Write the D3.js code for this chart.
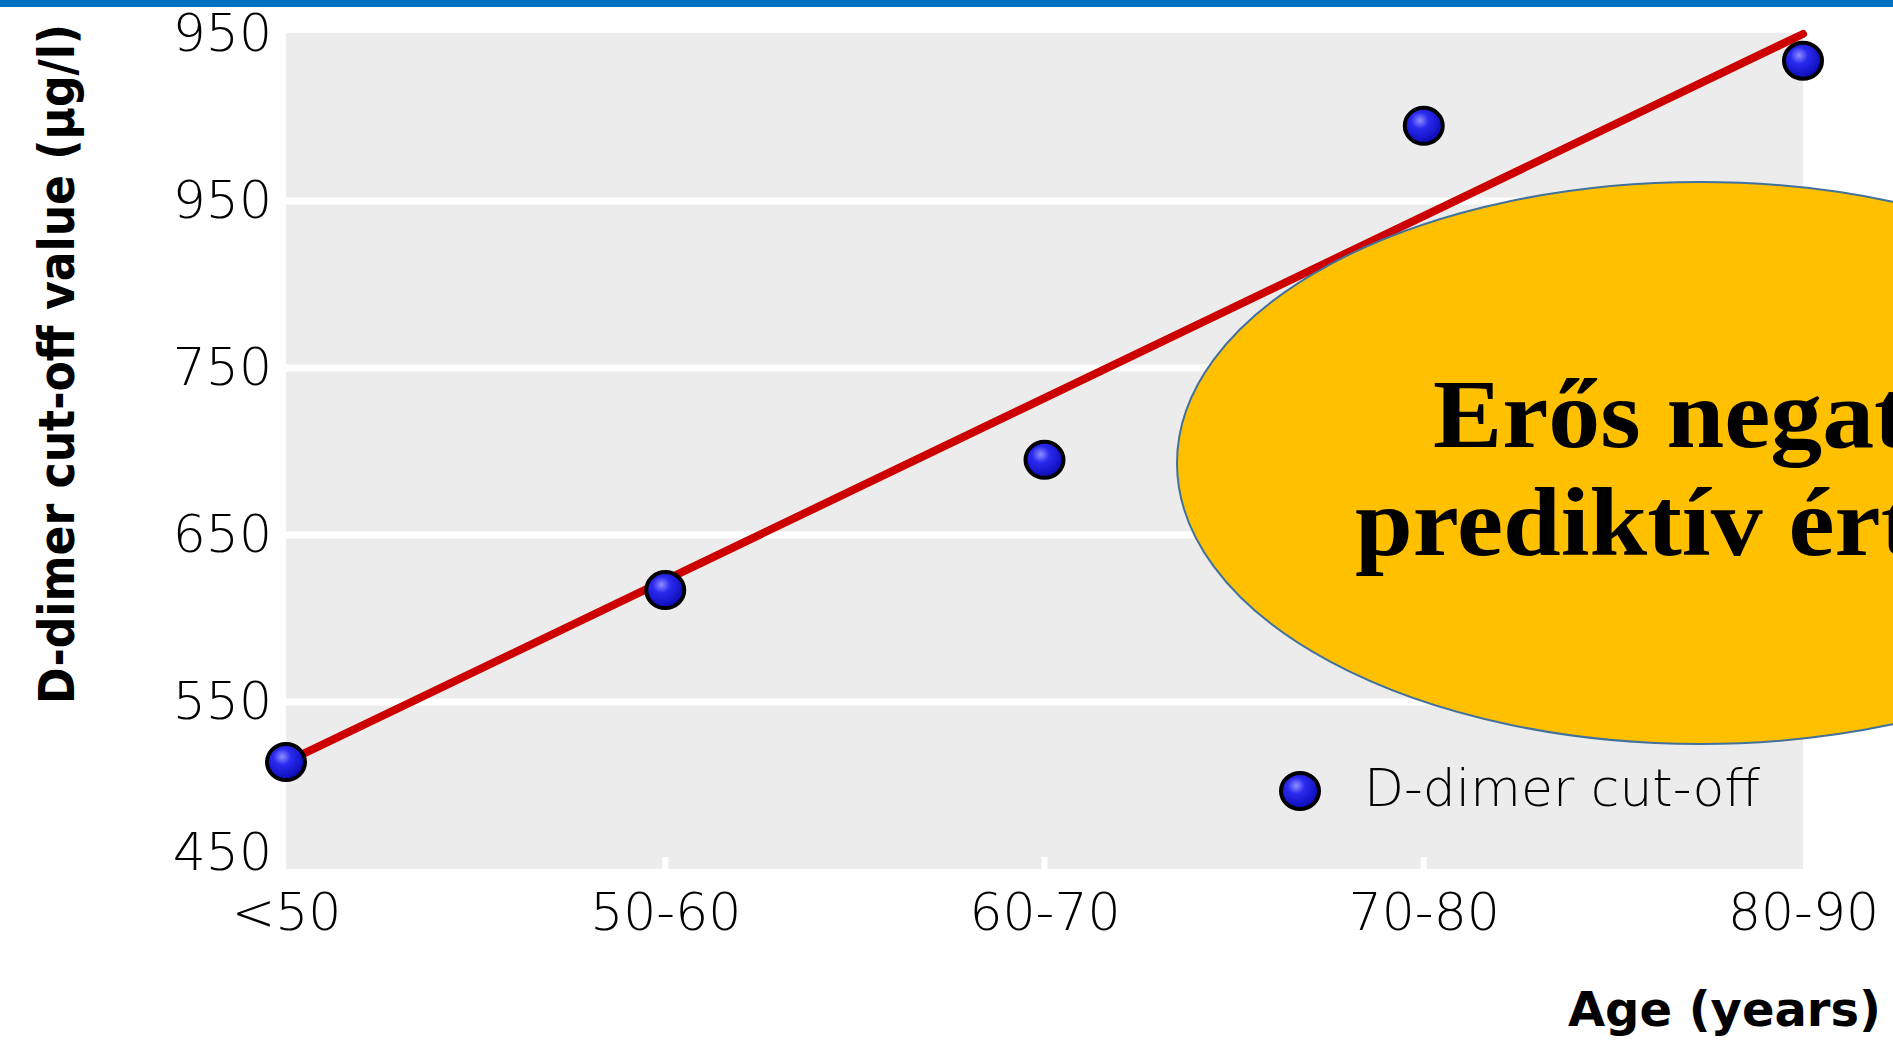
<!DOCTYPE html>
<html>
<head>
<meta charset="utf-8">
<script src="https://cdn.jsdelivr.net/npm/d3@7"></script>
<style>
  html, body { margin: 0; padding: 0; background: #ffffff; overflow: hidden; }
  svg { display: block; }
</style>
</head>
<body>
<svg id="chart" width="1893" height="1043"></svg>
<script>
// ---- data ----
const categories = ["<50", "50-60", "60-70", "70-80", "80-90"];
const cutoffValues = [514, 617, 695, 895, 934];
const trendCategories = ["<50", "80-90"];
const trendValues = [514, 950];
const yTicks = [450, 550, 650, 750, 850, 950];
const yTickLabels = ["450", "550", "650", "750", "950", "950"];
const legendLabel = "D-dimer cut-off";
const yTitle = "D-dimer cut-off value (µg/l)";
const xTitle = "Age (years)";
const calloutLines = ["Erős negatív", "prediktív érték"];

// ---- layout ----
const W = 1893, H = 1043;
const svg = d3.select("#chart");
const x = d3.scalePoint().domain(categories).range([286, 1803]).padding(0);
const y = d3.scaleLinear().domain([450, 950]).range([869, 34]);

const defs = svg.append("defs");
const grad = defs.append("radialGradient").attr("id", "ball")
  .attr("cx", "40%").attr("cy", "35%").attr("r", "65%");
grad.append("stop").attr("offset", "0%").attr("stop-color", "#8f8fff");
grad.append("stop").attr("offset", "35%").attr("stop-color", "#2b2bf0");
grad.append("stop").attr("offset", "100%").attr("stop-color", "#0a0ab4");

// top blue bar
svg.append("rect").attr("x", 0).attr("y", 0).attr("width", W).attr("height", 7).attr("fill", "#0070c0");

// panel
svg.append("rect")
  .attr("x", x.range()[0]).attr("y", y(950) - 1)
  .attr("width", x.range()[1] - x.range()[0])
  .attr("height", y(450) - y(950) + 1)
  .attr("fill", "#ececec");

// gridlines
svg.append("g").selectAll("line")
  .data(yTicks.filter(v => v > 450 && v < 950))
  .join("line")
  .attr("x1", x.range()[0]).attr("x2", x.range()[1])
  .attr("y1", d => y(d)).attr("y2", d => y(d))
  .attr("stroke", "#ffffff").attr("stroke-width", 7);

// x white ticks inside panel bottom
svg.append("g").selectAll("line")
  .data(categories.slice(1, -1))
  .join("line")
  .attr("x1", d => x(d)).attr("x2", d => x(d))
  .attr("y1", y(450) - 12).attr("y2", y(450))
  .attr("stroke", "#ffffff").attr("stroke-width", 6);

// y axis
const yAxis = d3.axisLeft(y).tickValues(yTicks)
  .tickFormat((d, i) => yTickLabels[i]).tickSize(0).tickPadding(14);
const gy = svg.append("g").attr("transform", `translate(${x.range()[0]},0)`).call(yAxis);
gy.select(".domain").remove();
gy.selectAll("text")
  .attr("font-family", "'DejaVu Sans', sans-serif")
  .attr("font-weight", 200)
  .attr("font-size", 52).attr("fill", "#000");
gy.selectAll(".tick").filter(d => d === 450).select("text").attr("dy", "0em");

// x axis
const xAxis = d3.axisBottom(x).tickSize(0).tickPadding(24);
const gx = svg.append("g").attr("transform", `translate(0,${y(450)})`).call(xAxis);
gx.select(".domain").remove();
gx.selectAll("text")
  .attr("font-family", "'DejaVu Sans', sans-serif")
  .attr("font-weight", 200)
  .attr("font-size", 52).attr("fill", "#000");

// trend line
svg.append("path")
  .datum(trendCategories.map((c, i) => [c, trendValues[i]]))
  .attr("d", d3.line().x(d => x(d[0])).y(d => y(d[1])))
  .attr("stroke", "#cc0000").attr("stroke-width", 8)
  .attr("stroke-linecap", "round").attr("fill", "none");

// points
svg.append("g").selectAll("ellipse")
  .data(categories.map((c, i) => ({ c, v: cutoffValues[i] })))
  .join("ellipse")
  .attr("cx", d => x(d.c)).attr("cy", d => y(d.v))
  .attr("rx", 19).attr("ry", 18)
  .attr("fill", "url(#ball)").attr("stroke", "#000").attr("stroke-width", 4);

// callout ellipse
const callout = svg.append("g");
callout.append("ellipse")
  .attr("cx", 1700).attr("cy", 463).attr("rx", 523).attr("ry", 281)
  .attr("fill", "#ffc000").attr("stroke", "#41719c").attr("stroke-width", 2);
const calloutX = [1433, 1355];
callout.selectAll("text")
  .data(calloutLines)
  .join("text")
  .attr("x", (d, i) => calloutX[i])
  .attr("y", (d, i) => 447 + i * 108)
  .attr("font-family", "'Liberation Serif', 'DejaVu Serif', serif")
  .attr("font-weight", "bold")
  .attr("font-size", 97)
  .attr("fill", "#000")
  .text(d => d)
  .each(function () {
    const w = this.getComputedTextLength();
    d3.select(this).attr("textLength", w * 1.07).attr("lengthAdjust", "spacingAndGlyphs");
  });

// legend
const lg = svg.append("g");
lg.append("ellipse").attr("cx", 1300).attr("cy", 791).attr("rx", 19).attr("ry", 18)
  .attr("fill", "url(#ball)").attr("stroke", "#000").attr("stroke-width", 4);
lg.append("text").attr("x", 1364).attr("y", 806)
  .attr("font-family", "'DejaVu Sans', sans-serif").attr("font-weight", 200)
  .attr("font-size", 52).attr("fill", "#000").text(legendLabel);

// axis titles
svg.append("text")
  .attr("transform", "translate(74,364) rotate(-90)")
  .attr("text-anchor", "middle")
  .attr("font-family", "'DejaVu Sans', sans-serif").attr("font-weight", "bold")
  .attr("font-size", 50)
  .attr("textLength", 680).attr("lengthAdjust", "spacingAndGlyphs")
  .attr("fill", "#000").text(yTitle);

svg.append("text")
  .attr("x", 1881).attr("y", 1026)
  .attr("text-anchor", "end")
  .attr("font-family", "'DejaVu Sans', sans-serif").attr("font-weight", "bold")
  .attr("font-size", 48).attr("fill", "#000").text(xTitle);
</script>
</body>
</html>
